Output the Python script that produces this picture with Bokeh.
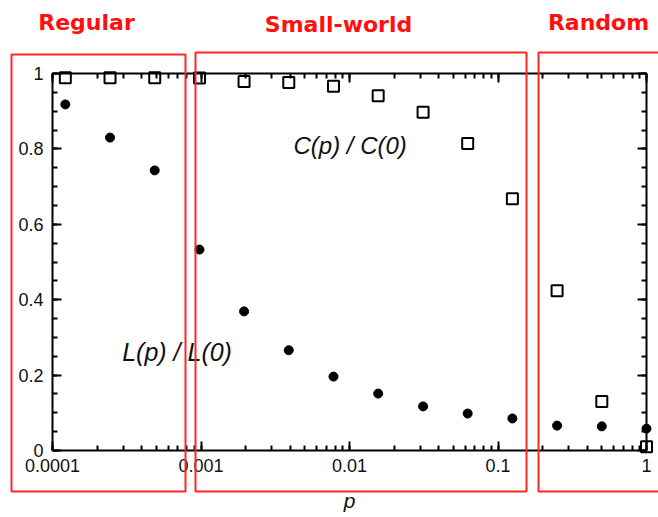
import math
from bokeh.plotting import figure
from bokeh.models import (LogAxis, LinearAxis, LogTicker, SingleIntervalTicker,
                          CustomJSTickFormatter, Label, BoxAnnotation, ColumnDataSource, Range1d)
from bokeh.embed import file_html
from bokeh.resources import INLINE

# ---- data ----
p_vals = [0.000122, 0.000244, 0.000488, 0.000977, 0.00195, 0.0039, 0.0078,
          0.0156, 0.0313, 0.0625, 0.125, 0.25, 0.5, 1.0]
c_ratio = [0.989, 0.989, 0.989, 0.988, 0.979, 0.976, 0.966, 0.941, 0.897,
           0.814, 0.668, 0.424, 0.130, 0.010]
l_ratio = [0.918, 0.830, 0.743, 0.533, 0.369, 0.266, 0.196, 0.151, 0.117,
           0.098, 0.085, 0.066, 0.064, 0.058]
region_names = ["Regular", "Small-world", "Random"]
x_lo, x_hi = 1e-4, 1.0
y_lo, y_hi = 0.0, 1.0

# ---- layout geometry (canvas pixels) ----
W, H = 658, 517
PL, PR, PT, PB = 52, 646, 73, 450          # plot box inside the canvas
dec = (PR - PL) / (math.log10(x_hi) - math.log10(x_lo))
xr0 = 10 ** (math.log10(x_lo) - PL / dec)
xr1 = 10 ** (math.log10(x_hi) + (W - PR) / dec)
upp = (y_hi - y_lo) / (PB - PT)
yr0 = y_lo - (H - PB) * upp
yr1 = y_hi + PT * upp

src = ColumnDataSource(dict(p=p_vals, c=c_ratio, l=l_ratio))

p = figure(width=W, height=H, x_axis_type="log",
           x_range=Range1d(xr0, xr1), y_range=Range1d(yr0, yr1),
           output_backend="svg", toolbar_location=None,
           min_border=0, min_border_left=0, min_border_right=0,
           min_border_top=0, min_border_bottom=0)
p.background_fill_color = "white"
p.border_fill_color = "white"
p.grid.visible = False
p.outline_line_color = None

fmt_x = CustomJSTickFormatter(code="return Number(tick.toPrecision(6)).toString();")
fmt_y = CustomJSTickFormatter(code="return Number(tick.toFixed(2)).toString();")
fmt_none = CustomJSTickFormatter(code="return '';")

def style_axis(ax, show_labels):
    ax.axis_line_width = 2
    ax.axis_line_color = "black"
    ax.major_tick_in = 9
    ax.major_tick_out = 0
    ax.minor_tick_in = 5
    ax.minor_tick_out = 0
    ax.major_tick_line_width = 2
    ax.minor_tick_line_width = 2
    ax.major_tick_line_color = "black"
    ax.minor_tick_line_color = "black"
    ax.major_label_text_font = "Liberation Sans"
    ax.major_label_text_font_size = "18px"
    ax.major_label_text_color = "#111111"
    if not show_labels:
        ax.formatter = fmt_none
        ax.major_label_standoff = 0

xa = p.xaxis[0]
xa.ticker = LogTicker(num_minor_ticks=10, desired_num_ticks=5)
xa.formatter = fmt_x
style_axis(xa, True)
xa.bounds = (x_lo, x_hi)
xa.fixed_location = y_lo
xa.major_label_standoff = 8
xa.axis_label = "p"
xa.axis_label_text_font = "Liberation Sans"
xa.axis_label_text_font_style = "italic"
xa.axis_label_text_font_size = "21px"
xa.axis_label_text_color = "#111111"
xa.axis_label_standoff = 14

ya = p.yaxis[0]
ya.ticker = SingleIntervalTicker(interval=0.2, num_minor_ticks=4)
ya.formatter = fmt_y
style_axis(ya, True)
ya.bounds = (y_lo, y_hi)
ya.fixed_location = x_lo
ya.major_label_standoff = 9

top = LogAxis(ticker=LogTicker(num_minor_ticks=10, desired_num_ticks=5))
style_axis(top, False)
top.bounds = (x_lo, x_hi)
top.fixed_location = y_hi
p.add_layout(top, "above")

right = LinearAxis(ticker=SingleIntervalTicker(interval=0.2, num_minor_ticks=4))
style_axis(right, False)
right.bounds = (y_lo, y_hi)
right.fixed_location = x_hi
p.add_layout(right, "right")

# ---- data marks ----
p.scatter("p", "c", source=src, marker="square", size=11, fill_color="white",
          line_color="black", line_width=2)
p.scatter("p", "l", source=src, marker="circle", size=9, fill_color="black",
          line_color="black")

# ---- curve labels ----
p.add_layout(Label(x=0.0101, y=0.809, text="C(p) / C(0)", text_align="center",
                   text_baseline="middle", text_font="Liberation Sans",
                   text_font_style="italic", text_font_size="24px", text_color="#111111"))
p.add_layout(Label(x=0.00069, y=0.26, text="L(p) / L(0)", text_align="center",
                   text_baseline="middle", text_font="Liberation Sans",
                   text_font_style="italic", text_font_size="25px", text_color="#111111"))

# ---- red region boxes & titles (screen units, canvas bottom-left origin) ----
boxes = [(11, 185, 463), (195, 526, 465), (538, 672, 465)]
title_pos = [(86, 495), (338, 493), (598, 495)]
for (l, r, t), name, (tx, ty) in zip(boxes, region_names, title_pos):
    p.add_layout(BoxAnnotation(left=l, right=r, top=t, bottom=26,
                               left_units="screen", right_units="screen",
                               top_units="screen", bottom_units="screen",
                               fill_alpha=0, line_color="#ff2626", line_alpha=1.0,
                               line_width=2, level="overlay"))
    p.add_layout(Label(x=tx, y=ty, x_units="screen", y_units="screen", text=name,
                       text_align="center", text_baseline="middle",
                       text_font="DejaVu Sans", text_font_style="bold",
                       text_font_size="22px", text_color="#ff1010"))

open("out.html", "w").write(file_html(p, INLINE))
